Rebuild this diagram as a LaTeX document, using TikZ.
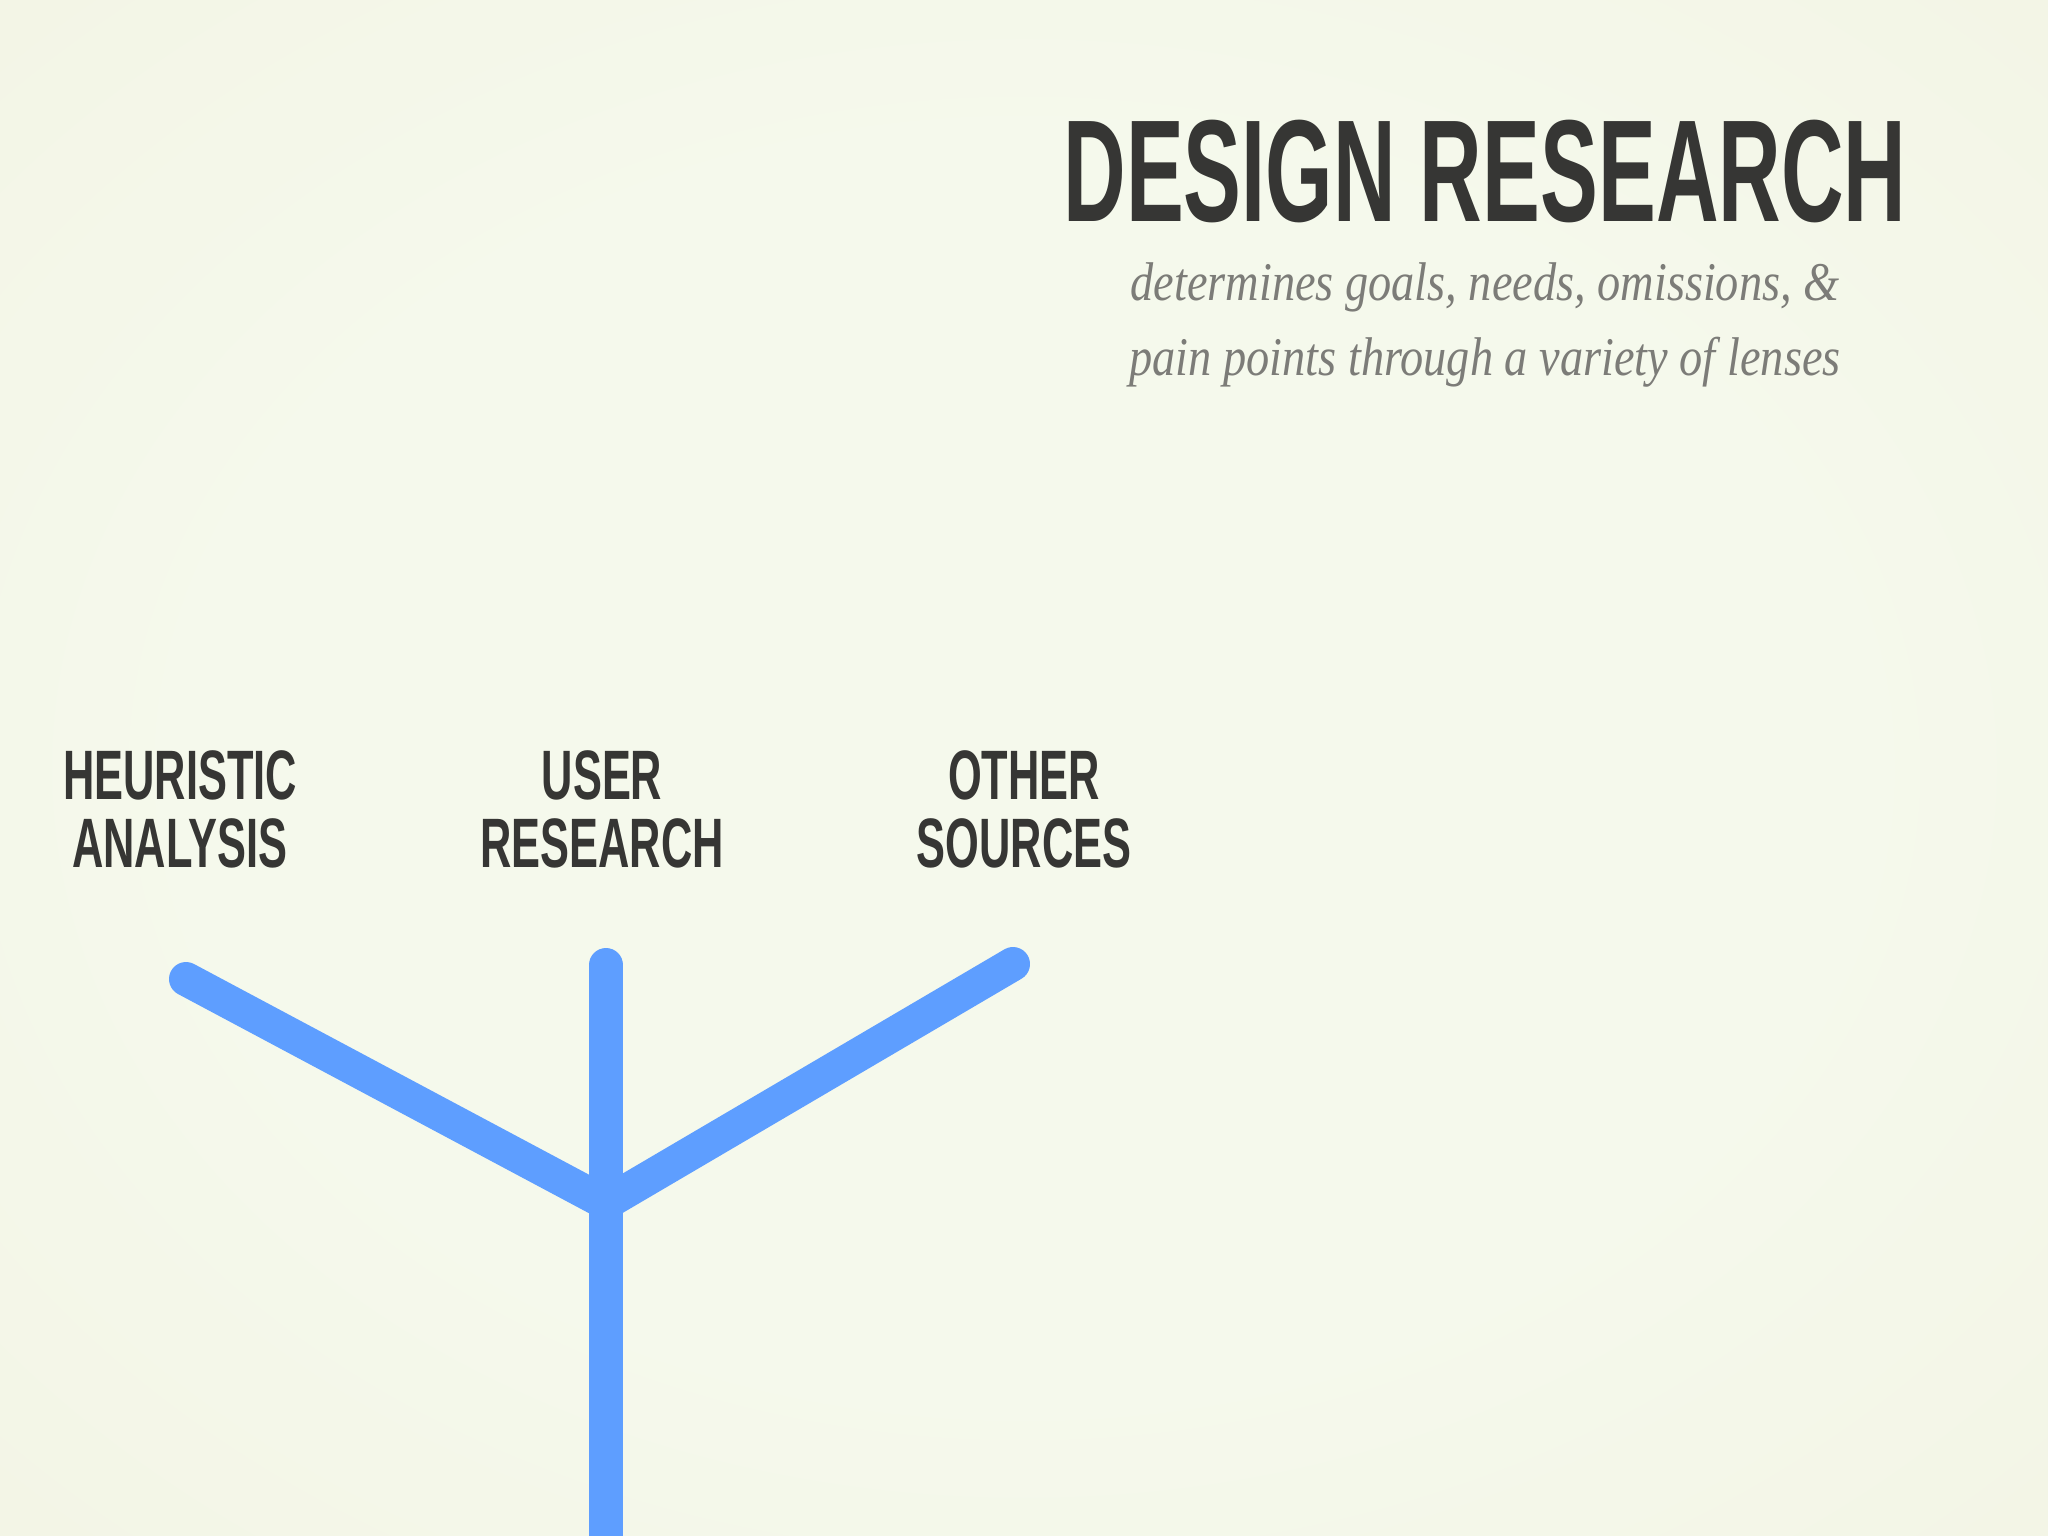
\documentclass[tikz,border=0pt]{standalone}
\usepackage{fontspec}
\newfontfamily\condtitle{Liberation Sans}[FakeStretch=0.597]
\newfontfamily\condlabel{Liberation Sans}[FakeStretch=0.62]
\newfontfamily\subfont{Liberation Serif}[FakeStretch=0.85]
\definecolor{bgin}{RGB}{245,249,236}
\definecolor{bgmid}{RGB}{241,241,224}
\definecolor{bgout}{RGB}{235,226,203}
\definecolor{lineblue}{RGB}{94,158,255}
\definecolor{titlegray}{RGB}{54,54,52}
\definecolor{subgray}{RGB}{124,124,120}
\pgfdeclareradialshading{vig}{\pgfpoint{0bp}{0bp}}{color(0bp)=(bgin); color(20bp)=(bgin); color(50bp)=(bgmid); color(71bp)=(bgout)}
\tikzset{
  titlestyle/.style={inner sep=0pt, text=titlegray, font=\condtitle\bfseries\fontsize{41.3}{41.3}\selectfont},
  substyle/.style={inner sep=0pt, text=subgray, font=\subfont\itshape\fontsize{15.5}{21.3}\selectfont},
  labelstyle/.style={inner sep=0pt, align=center, text=titlegray, font=\condlabel\bfseries\fontsize{19.9}{19.35}\selectfont},
  branch/.style={line width=9.67pt, draw=lineblue, line cap=round}
}
\begin{document}
\begin{tikzpicture}[x=0.01cm,y=-0.01cm]
\useasboundingbox (0,0) rectangle (2048,1536);
\shade[shading=vig] (0,0) rectangle (2048,1536);
% title and subtitle
\node[titlestyle, anchor=base] (title) at (1485,221) {DESIGN RESEARCH};
\node[substyle, anchor=base] (sub1) at (1485,300) {determines goals, needs, omissions, \&};
\node[substyle, anchor=base] (sub2) at (1485,375) {pain points through a variety of lenses};
% labels
\node[labelstyle, anchor=north] (heur) at (180,750) {HEURISTIC\\ANALYSIS};
\node[labelstyle, anchor=north] (user) at (602,750) {USER\\RESEARCH};
\node[labelstyle, anchor=north] (other) at (1024,750) {OTHER\\SOURCES};
% branches
\coordinate (ha) at (186,979);
\coordinate (ur) at (606,965);
\coordinate (os) at (1013,964);
\coordinate (jn) at (606,1203);
\coordinate (bt) at (606,1580);
\draw[branch] (ha) -- (jn);
\draw[branch] (os) -- (jn);
\draw[branch] (ur) -- (bt);
\end{tikzpicture}
\end{document}
